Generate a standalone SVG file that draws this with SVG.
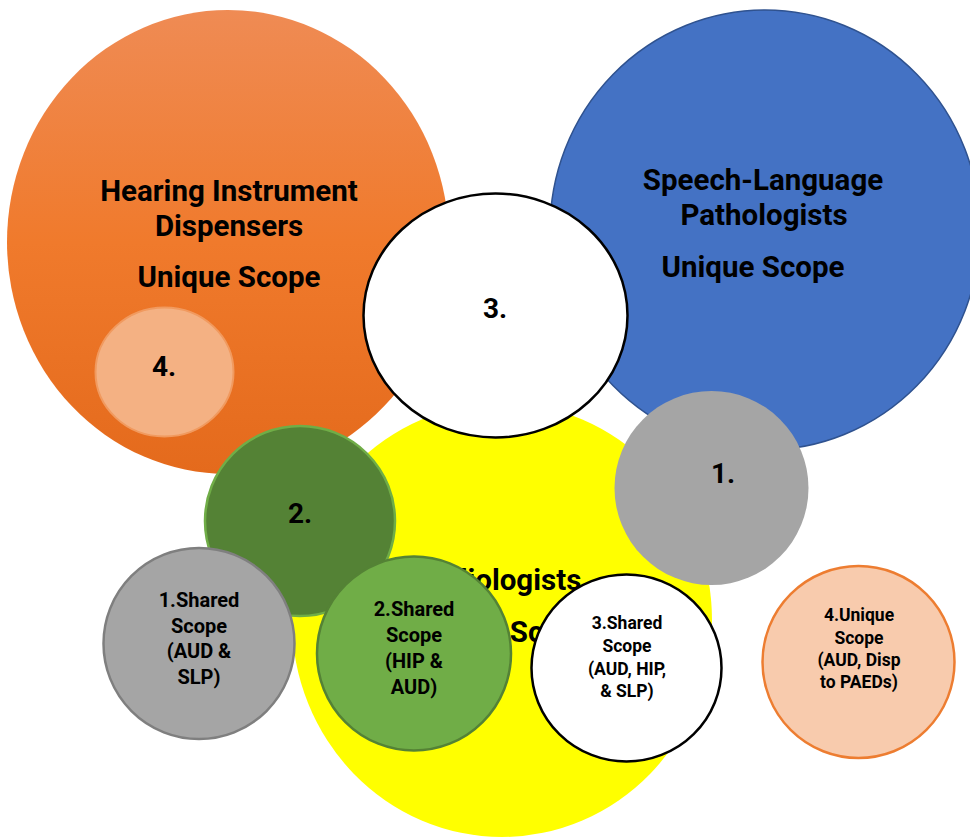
<svg xmlns="http://www.w3.org/2000/svg" width="970" height="837" viewBox="0 0 970 837">
<style>
text{font-family:Roboto,"Liberation Sans",sans-serif;font-weight:bold;fill:#000;text-anchor:middle}
.t{font-size:29.5px}
.n{font-size:28px}
.s{font-size:20px}
.x{font-size:17.5px}
</style>
<defs>
<linearGradient id="og" x1="0" y1="0" x2="0" y2="1">
<stop offset="0" stop-color="#EF8B54"/>
<stop offset="0.5" stop-color="#F07A2C"/>
<stop offset="1" stop-color="#E46A1C"/>
</linearGradient>
</defs>
<g id="hid">
<ellipse cx="228" cy="242" rx="221" ry="232" fill="url(#og)"/>
<text class="t" x="229" y="201">Hearing Instrument</text>
<text class="t" x="229" y="236">Dispensers</text>
<text class="t" x="229" y="287">Unique Scope</text>
</g>
<g id="slp">
<ellipse cx="765" cy="230" rx="215" ry="220" fill="#4472C4" stroke="#2F528F" stroke-width="1.5"/>
<text class="t" x="763" y="190">Speech-Language</text>
<text class="t" x="764" y="225">Pathologists</text>
<text class="t" x="753" y="277">Unique Scope</text>
</g>
<g id="aud">
<ellipse cx="502" cy="620" rx="210" ry="217" fill="#FFFF00"/>
<text class="t" x="498" y="590">Audiologists</text>
<text class="t" x="501" y="642">Unique Scope</text>
</g>
<g id="c3">
<ellipse cx="495.5" cy="315.5" rx="132" ry="122" fill="#FFFFFF" stroke="#000" stroke-width="2.5"/>
<text class="n" x="495" y="318">3.</text>
</g>
<g id="c1">
<circle cx="711.5" cy="488" r="97" fill="#A5A5A5"/>
<text class="n" x="723" y="483">1.</text>
</g>
<g id="c2">
<circle cx="300" cy="521" r="95" fill="#548235" stroke="#70AD47" stroke-width="2.5"/>
<text class="n" x="300" y="523">2.</text>
</g>
<g id="c4">
<ellipse cx="164.5" cy="372" rx="69" ry="64.5" fill="#F4B183" stroke="#F19A5F" stroke-width="2"/>
<text class="n" x="164" y="376">4.</text>
</g>
<g id="s1">
<circle cx="199" cy="643.5" r="95.5" fill="#A5A5A5" stroke="#7F7F7F" stroke-width="2.5"/>
<text class="s" x="199" y="607">1.Shared</text>
<text class="s" x="199" y="632.5">Scope</text>
<text class="s" x="199" y="658">(AUD &amp;</text>
<text class="s" x="199" y="683.5">SLP)</text>
</g>
<g id="s2">
<circle cx="414" cy="653.5" r="97" fill="#70AD47" stroke="#548235" stroke-width="2.5"/>
<text class="s" x="414" y="616">2.Shared</text>
<text class="s" x="414" y="642">Scope</text>
<text class="s" x="414" y="668">(HIP &amp;</text>
<text class="s" x="414" y="694">AUD)</text>
</g>
<g id="s3">
<ellipse cx="626.5" cy="668" rx="95" ry="93.5" fill="#FFFFFF" stroke="#000" stroke-width="2.5"/>
<text class="x" x="627" y="629">3.Shared</text>
<text class="x" x="627" y="652">Scope</text>
<text class="x" x="627" y="675">(AUD, HIP,</text>
<text class="x" x="627" y="697">&amp; SLP)</text>
</g>
<g id="u4">
<circle cx="858.5" cy="662" r="96" fill="#F8CBAD" stroke="#ED7D31" stroke-width="2.5"/>
<text class="x" x="859" y="621">4.Unique</text>
<text class="x" x="859" y="643.5">Scope</text>
<text class="x" x="859" y="666">(AUD, Disp</text>
<text class="x" x="859" y="688">to PAEDs)</text>
</g>
<g id="connectors"/>
</svg>
